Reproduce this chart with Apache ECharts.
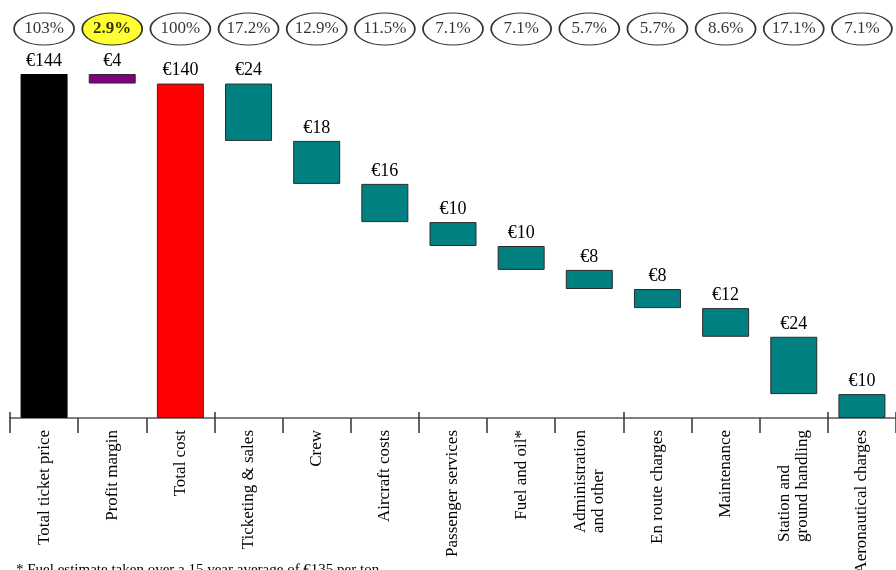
<!DOCTYPE html>
<html>
<head>
<meta charset="utf-8">
<script src="https://cdn.jsdelivr.net/npm/echarts@6/dist/echarts.min.js"></script>
<style>
  html, body { margin: 0; padding: 0; background: #ffffff; }
  #chart { width: 896px; height: 570px; }
</style>
</head>
<body>
<div id="chart"></div>
<script>
// Ticket price breakdown (waterfall), values in euro
const categories = [
  'Total ticket price', 'Profit margin', 'Total cost', 'Ticketing & sales', 'Crew',
  'Aircraft costs', 'Passenger services', 'Fuel and oil*', 'Administration\nand other',
  'En route charges', 'Maintenance', 'Station and\nground handling', 'Aeronautical charges'
];
const ticketPrice = 144;
const profitMargin = 4;
const totalCost = 140;
const costItems = [24, 18, 16, 10, 10, 8, 8, 12, 24, 10];
const shareLabels = ['103%', '2.9%', '100%', '17.2%', '12.9%', '11.5%', '7.1%', '7.1%', '5.7%', '5.7%', '8.6%', '17.1%', '7.1%'];
const footnote = '* Fuel estimate taken over a 15 year average of \u20ac135 per ton';

const FONT = '"Liberation Serif", "Times New Roman", serif';
const AXIS_FONT_SIZE = 17;
const barColors = ['#000000', '#800080', '#ff0000'];
const costColor = '#008080';
const highlightIndex = 1;

// Visible bar heights and the invisible offsets that float them
const values = [ticketPrice, profitMargin, totalCost].concat(costItems);
const bases = [0, totalCost, 0];
let running = totalCost;
costItems.forEach(function (c) {
  running -= c;
  bases.push(running);
});

// Two-line category names: lines start flush at the far end of the block
const measureCtx = document.createElement('canvas').getContext('2d');
measureCtx.font = AXIS_FONT_SIZE + 'px ' + FONT;
const richStyles = {};
categories.forEach(function (name, i) {
  if (name.indexOf('\n') >= 0) {
    const w = Math.max.apply(null, name.split('\n').map(function (s) {
      return measureCtx.measureText(s).width;
    }));
    richStyles['m' + i] = {
      width: Math.ceil(w), align: 'left', color: '#000000',
      fontFamily: FONT, fontSize: AXIS_FONT_SIZE, lineHeight: 18
    };
  }
});

const ELLIPSE = 'path://M0,50 A50,50 0 1,1 100,50 A50,50 0 1,1 0,50 Z';

const chart = echarts.init(document.getElementById('chart'), null, { renderer: 'canvas' });

chart.setOption({
  backgroundColor: '#ffffff',
  animation: false,
  grid: [
    { left: 10, right: 0, top: 74, bottom: 152, containLabel: false, outerBoundsMode: 'none' },
    { left: 10, right: 0, top: 13, height: 32, containLabel: false, outerBoundsMode: 'none' }
  ],
  xAxis: [
    {
      type: 'category', gridIndex: 0, data: categories, position: 'bottom',
      axisLine: { show: true, lineStyle: { color: '#808080', width: 2 } },
      axisTick: { show: true, length: 15, lineStyle: { color: '#333333', width: 1.5 } },
      axisLabel: {
        interval: 0, rotate: 90, margin: 12, color: '#000000',
        fontFamily: FONT, fontSize: AXIS_FONT_SIZE, lineHeight: 18,
        formatter: function (name, i) {
          if (richStyles['m' + i]) {
            return name.split('\n').map(function (s) { return '{m' + i + '|' + s + '}'; }).join('\n');
          }
          return name;
        },
        rich: richStyles
      },
      splitLine: { show: false }
    },
    {
      type: 'category', gridIndex: 1, data: categories, show: false
    },
    {
      type: 'category', gridIndex: 0, data: categories, position: 'bottom',
      axisLine: { show: false },
      axisTick: { show: true, inside: true, length: 6, lineStyle: { color: '#333333', width: 1.5 } },
      axisLabel: { show: false },
      splitLine: { show: false }
    }
  ],
  yAxis: [
    { type: 'value', gridIndex: 0, min: 0, max: ticketPrice, show: false },
    { type: 'value', gridIndex: 1, min: -1, max: 1, show: false }
  ],
  series: [
    {
      name: 'offset', type: 'bar', stack: 'fall', xAxisIndex: 0, yAxisIndex: 0,
      barWidth: 47, silent: true,
      itemStyle: { color: 'rgba(0,0,0,0)' },
      data: bases
    },
    {
      name: 'amount', type: 'bar', stack: 'fall', xAxisIndex: 0, yAxisIndex: 0,
      barWidth: 47,
      data: values.map(function (v, i) {
        const color = i < barColors.length ? barColors[i] : costColor;
        return {
          value: v,
          itemStyle: {
            color: color,
            borderColor: i === 0 ? '#000000' : '#2b2b2b',
            borderWidth: 1
          }
        };
      }),
      label: {
        show: true, position: 'top', distance: 4,
        color: '#000000', fontFamily: FONT, fontSize: 18,
        formatter: function (p) { return '\u20ac' + p.value; }
      }
    },
    {
      name: 'share', type: 'scatter', xAxisIndex: 1, yAxisIndex: 1,
      symbol: ELLIPSE, symbolSize: [60, 32], silent: true,
      data: shareLabels.map(function (s, i) {
        const hi = i === highlightIndex;
        return {
          value: [i, 0],
          itemStyle: { color: hi ? '#ffff00' : '#ffffff', borderColor: '#000000', borderWidth: 1.3 },
          label: { fontWeight: hi ? 'bold' : 'normal' }
        };
      }),
      label: {
        show: true, position: 'inside', color: '#000000',
        fontFamily: FONT, fontSize: 17,
        formatter: function (p) { return shareLabels[p.dataIndex]; }
      }
    }
  ],
  graphic: [
    {
      type: 'text', left: 16, top: 563,
      style: { text: footnote, fill: '#000000', font: '15px ' + FONT }
    }
  ]
});
</script>
</body>
</html>
